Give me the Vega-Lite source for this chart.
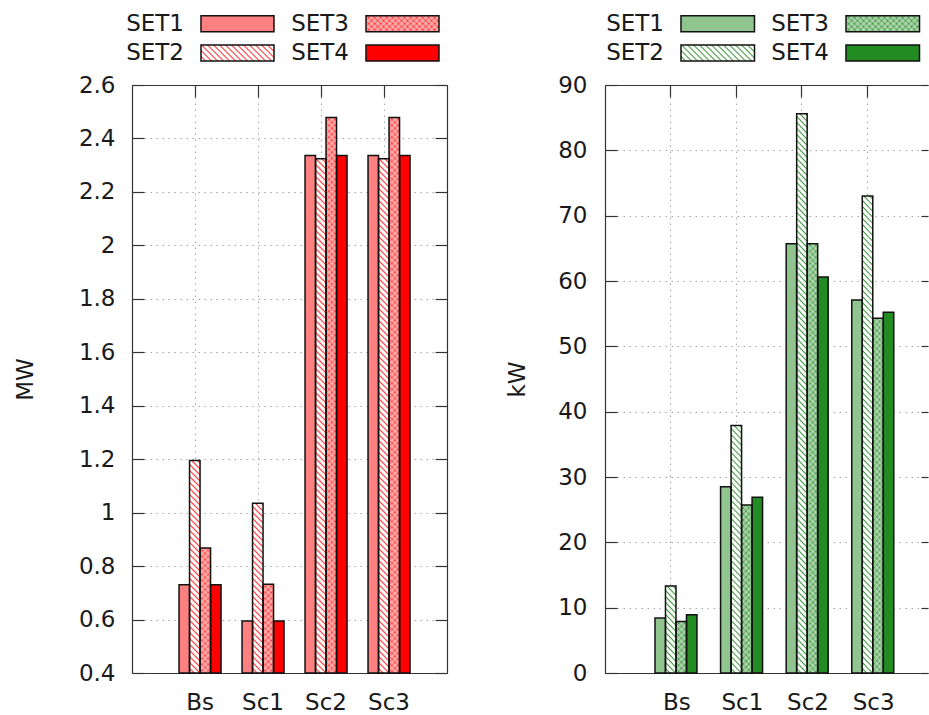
{
  "$schema": "https://vega.github.io/schema/vega-lite/v6.json",
  "autosize": {"type": "pad"},
  "padding": {"left": 14, "top": 0, "right": 0, "bottom": 0},
  "config": {
    "font": "DejaVu Sans",
    "view": {"stroke": null},
    "axis": {
      "labelFont": "DejaVu Sans", "labelFontSize": 23, "labelColor": "#1a1a1a",
      "titleFont": "DejaVu Sans", "titleFontSize": 23, "titleFontWeight": "normal", "titleColor": "#1a1a1a",
      "domainColor": "#333333", "domainWidth": 1.2, "tickColor": "#333333", "tickWidth": 1.2,
      "gridColor": "#a6a6a6", "gridDash": [1.5, 4.5], "gridWidth": 1
    }
  },
  "params": [
    {
      "name": "hatch",
      "value": [
        {"offset":0,"color":"#fff"},{"offset":0.005,"color":"#fff"},{"offset":0.0078,"color":"#fff0"},
        {"offset":0.01,"color":"#fff"},{"offset":0.015,"color":"#fff"},{"offset":0.0178,"color":"#fff0"},
        {"offset":0.02,"color":"#fff"},{"offset":0.025,"color":"#fff"},{"offset":0.0278,"color":"#fff0"},
        {"offset":0.03,"color":"#fff"},{"offset":0.035,"color":"#fff"},{"offset":0.0378,"color":"#fff0"},
        {"offset":0.04,"color":"#fff"},{"offset":0.045,"color":"#fff"},{"offset":0.0478,"color":"#fff0"},
        {"offset":0.05,"color":"#fff"},{"offset":0.055,"color":"#fff"},{"offset":0.0578,"color":"#fff0"},
        {"offset":0.06,"color":"#fff"},{"offset":0.065,"color":"#fff"},{"offset":0.0678,"color":"#fff0"},
        {"offset":0.07,"color":"#fff"},{"offset":0.075,"color":"#fff"},{"offset":0.0778,"color":"#fff0"},
        {"offset":0.08,"color":"#fff"},{"offset":0.085,"color":"#fff"},{"offset":0.0878,"color":"#fff0"},
        {"offset":0.09,"color":"#fff"},{"offset":0.095,"color":"#fff"},{"offset":0.0978,"color":"#fff0"},
        {"offset":0.10,"color":"#fff"},{"offset":0.105,"color":"#fff"},{"offset":0.1078,"color":"#fff0"},
        {"offset":0.11,"color":"#fff"},{"offset":0.115,"color":"#fff"},{"offset":0.1178,"color":"#fff0"},
        {"offset":0.12,"color":"#fff"},{"offset":0.125,"color":"#fff"},{"offset":0.1278,"color":"#fff0"},
        {"offset":0.13,"color":"#fff"},{"offset":0.135,"color":"#fff"},{"offset":0.1378,"color":"#fff0"},
        {"offset":0.14,"color":"#fff"},{"offset":0.145,"color":"#fff"},{"offset":0.1478,"color":"#fff0"},
        {"offset":0.15,"color":"#fff"},{"offset":0.155,"color":"#fff"},{"offset":0.1578,"color":"#fff0"},
        {"offset":0.16,"color":"#fff"},{"offset":0.165,"color":"#fff"},{"offset":0.1678,"color":"#fff0"},
        {"offset":0.17,"color":"#fff"},{"offset":0.175,"color":"#fff"},{"offset":0.1778,"color":"#fff0"},
        {"offset":0.18,"color":"#fff"},{"offset":0.185,"color":"#fff"},{"offset":0.1878,"color":"#fff0"},
        {"offset":0.19,"color":"#fff"},{"offset":0.195,"color":"#fff"},{"offset":0.1978,"color":"#fff0"},
        {"offset":0.20,"color":"#fff"},{"offset":0.205,"color":"#fff"},{"offset":0.2078,"color":"#fff0"},
        {"offset":0.21,"color":"#fff"},{"offset":0.215,"color":"#fff"},{"offset":0.2178,"color":"#fff0"},
        {"offset":0.22,"color":"#fff"},{"offset":0.225,"color":"#fff"},{"offset":0.2278,"color":"#fff0"},
        {"offset":0.23,"color":"#fff"},{"offset":0.235,"color":"#fff"},{"offset":0.2378,"color":"#fff0"},
        {"offset":0.24,"color":"#fff"},{"offset":0.245,"color":"#fff"},{"offset":0.2478,"color":"#fff0"},
        {"offset":0.25,"color":"#fff"},{"offset":0.255,"color":"#fff"},{"offset":0.2578,"color":"#fff0"},
        {"offset":0.26,"color":"#fff"},{"offset":0.265,"color":"#fff"},{"offset":0.2678,"color":"#fff0"},
        {"offset":0.27,"color":"#fff"},{"offset":0.275,"color":"#fff"},{"offset":0.2778,"color":"#fff0"},
        {"offset":0.28,"color":"#fff"},{"offset":0.285,"color":"#fff"},{"offset":0.2878,"color":"#fff0"},
        {"offset":0.29,"color":"#fff"},{"offset":0.295,"color":"#fff"},{"offset":0.2978,"color":"#fff0"},
        {"offset":0.30,"color":"#fff"},{"offset":0.305,"color":"#fff"},{"offset":0.3078,"color":"#fff0"},
        {"offset":0.31,"color":"#fff"},{"offset":0.315,"color":"#fff"},{"offset":0.3178,"color":"#fff0"},
        {"offset":0.32,"color":"#fff"},{"offset":0.325,"color":"#fff"},{"offset":0.3278,"color":"#fff0"},
        {"offset":0.33,"color":"#fff"},{"offset":0.335,"color":"#fff"},{"offset":0.3378,"color":"#fff0"},
        {"offset":0.34,"color":"#fff"},{"offset":0.345,"color":"#fff"},{"offset":0.3478,"color":"#fff0"},
        {"offset":0.35,"color":"#fff"},{"offset":0.355,"color":"#fff"},{"offset":0.3578,"color":"#fff0"},
        {"offset":0.36,"color":"#fff"},{"offset":0.365,"color":"#fff"},{"offset":0.3678,"color":"#fff0"},
        {"offset":0.37,"color":"#fff"},{"offset":0.375,"color":"#fff"},{"offset":0.3778,"color":"#fff0"},
        {"offset":0.38,"color":"#fff"},{"offset":0.385,"color":"#fff"},{"offset":0.3878,"color":"#fff0"},
        {"offset":0.39,"color":"#fff"},{"offset":0.395,"color":"#fff"},{"offset":0.3978,"color":"#fff0"},
        {"offset":0.40,"color":"#fff"},{"offset":0.405,"color":"#fff"},{"offset":0.4078,"color":"#fff0"},
        {"offset":0.41,"color":"#fff"},{"offset":0.415,"color":"#fff"},{"offset":0.4178,"color":"#fff0"},
        {"offset":0.42,"color":"#fff"},{"offset":0.425,"color":"#fff"},{"offset":0.4278,"color":"#fff0"},
        {"offset":0.43,"color":"#fff"},{"offset":0.435,"color":"#fff"},{"offset":0.4378,"color":"#fff0"},
        {"offset":0.44,"color":"#fff"},{"offset":0.445,"color":"#fff"},{"offset":0.4478,"color":"#fff0"},
        {"offset":0.45,"color":"#fff"},{"offset":0.455,"color":"#fff"},{"offset":0.4578,"color":"#fff0"},
        {"offset":0.46,"color":"#fff"},{"offset":0.465,"color":"#fff"},{"offset":0.4678,"color":"#fff0"},
        {"offset":0.47,"color":"#fff"},{"offset":0.475,"color":"#fff"},{"offset":0.4778,"color":"#fff0"},
        {"offset":0.48,"color":"#fff"},{"offset":0.485,"color":"#fff"},{"offset":0.4878,"color":"#fff0"},
        {"offset":0.49,"color":"#fff"},{"offset":0.495,"color":"#fff"},{"offset":0.4978,"color":"#fff0"},
        {"offset":0.50,"color":"#fff"},{"offset":0.505,"color":"#fff"},{"offset":0.5078,"color":"#fff0"},
        {"offset":0.51,"color":"#fff"},{"offset":0.515,"color":"#fff"},{"offset":0.5178,"color":"#fff0"},
        {"offset":0.52,"color":"#fff"},{"offset":0.525,"color":"#fff"},{"offset":0.5278,"color":"#fff0"},
        {"offset":0.53,"color":"#fff"},{"offset":0.535,"color":"#fff"},{"offset":0.5378,"color":"#fff0"},
        {"offset":0.54,"color":"#fff"},{"offset":0.545,"color":"#fff"},{"offset":0.5478,"color":"#fff0"},
        {"offset":0.55,"color":"#fff"},{"offset":0.555,"color":"#fff"},{"offset":0.5578,"color":"#fff0"},
        {"offset":0.56,"color":"#fff"},{"offset":0.565,"color":"#fff"},{"offset":0.5678,"color":"#fff0"},
        {"offset":0.57,"color":"#fff"},{"offset":0.575,"color":"#fff"},{"offset":0.5778,"color":"#fff0"},
        {"offset":0.58,"color":"#fff"},{"offset":0.585,"color":"#fff"},{"offset":0.5878,"color":"#fff0"},
        {"offset":0.59,"color":"#fff"},{"offset":0.595,"color":"#fff"},{"offset":0.5978,"color":"#fff0"},
        {"offset":0.60,"color":"#fff"},{"offset":0.605,"color":"#fff"},{"offset":0.6078,"color":"#fff0"},
        {"offset":0.61,"color":"#fff"},{"offset":0.615,"color":"#fff"},{"offset":0.6178,"color":"#fff0"},
        {"offset":0.62,"color":"#fff"},{"offset":0.625,"color":"#fff"},{"offset":0.6278,"color":"#fff0"},
        {"offset":0.63,"color":"#fff"},{"offset":0.635,"color":"#fff"},{"offset":0.6378,"color":"#fff0"},
        {"offset":0.64,"color":"#fff"},{"offset":0.645,"color":"#fff"},{"offset":0.6478,"color":"#fff0"},
        {"offset":0.65,"color":"#fff"},{"offset":0.655,"color":"#fff"},{"offset":0.6578,"color":"#fff0"},
        {"offset":0.66,"color":"#fff"},{"offset":0.665,"color":"#fff"},{"offset":0.6678,"color":"#fff0"},
        {"offset":0.67,"color":"#fff"},{"offset":0.675,"color":"#fff"},{"offset":0.6778,"color":"#fff0"},
        {"offset":0.68,"color":"#fff"},{"offset":0.685,"color":"#fff"},{"offset":0.6878,"color":"#fff0"},
        {"offset":0.69,"color":"#fff"},{"offset":0.695,"color":"#fff"},{"offset":0.6978,"color":"#fff0"},
        {"offset":0.70,"color":"#fff"},{"offset":0.705,"color":"#fff"},{"offset":0.7078,"color":"#fff0"},
        {"offset":0.71,"color":"#fff"},{"offset":0.715,"color":"#fff"},{"offset":0.7178,"color":"#fff0"},
        {"offset":0.72,"color":"#fff"},{"offset":0.725,"color":"#fff"},{"offset":0.7278,"color":"#fff0"},
        {"offset":0.73,"color":"#fff"},{"offset":0.735,"color":"#fff"},{"offset":0.7378,"color":"#fff0"},
        {"offset":0.74,"color":"#fff"},{"offset":0.745,"color":"#fff"},{"offset":0.7478,"color":"#fff0"},
        {"offset":0.75,"color":"#fff"},{"offset":0.755,"color":"#fff"},{"offset":0.7578,"color":"#fff0"},
        {"offset":0.76,"color":"#fff"},{"offset":0.765,"color":"#fff"},{"offset":0.7678,"color":"#fff0"},
        {"offset":0.77,"color":"#fff"},{"offset":0.775,"color":"#fff"},{"offset":0.7778,"color":"#fff0"},
        {"offset":0.78,"color":"#fff"},{"offset":0.785,"color":"#fff"},{"offset":0.7878,"color":"#fff0"},
        {"offset":0.79,"color":"#fff"},{"offset":0.795,"color":"#fff"},{"offset":0.7978,"color":"#fff0"},
        {"offset":0.80,"color":"#fff"},{"offset":0.805,"color":"#fff"},{"offset":0.8078,"color":"#fff0"},
        {"offset":0.81,"color":"#fff"},{"offset":0.815,"color":"#fff"},{"offset":0.8178,"color":"#fff0"},
        {"offset":0.82,"color":"#fff"},{"offset":0.825,"color":"#fff"},{"offset":0.8278,"color":"#fff0"},
        {"offset":0.83,"color":"#fff"},{"offset":0.835,"color":"#fff"},{"offset":0.8378,"color":"#fff0"},
        {"offset":0.84,"color":"#fff"},{"offset":0.845,"color":"#fff"},{"offset":0.8478,"color":"#fff0"},
        {"offset":0.85,"color":"#fff"},{"offset":0.855,"color":"#fff"},{"offset":0.8578,"color":"#fff0"},
        {"offset":0.86,"color":"#fff"},{"offset":0.865,"color":"#fff"},{"offset":0.8678,"color":"#fff0"},
        {"offset":0.87,"color":"#fff"},{"offset":0.875,"color":"#fff"},{"offset":0.8778,"color":"#fff0"},
        {"offset":0.88,"color":"#fff"},{"offset":0.885,"color":"#fff"},{"offset":0.8878,"color":"#fff0"},
        {"offset":0.89,"color":"#fff"},{"offset":0.895,"color":"#fff"},{"offset":0.8978,"color":"#fff0"},
        {"offset":0.90,"color":"#fff"},{"offset":0.905,"color":"#fff"},{"offset":0.9078,"color":"#fff0"},
        {"offset":0.91,"color":"#fff"},{"offset":0.915,"color":"#fff"},{"offset":0.9178,"color":"#fff0"},
        {"offset":0.92,"color":"#fff"},{"offset":0.925,"color":"#fff"},{"offset":0.9278,"color":"#fff0"},
        {"offset":0.93,"color":"#fff"},{"offset":0.935,"color":"#fff"},{"offset":0.9378,"color":"#fff0"},
        {"offset":0.94,"color":"#fff"},{"offset":0.945,"color":"#fff"},{"offset":0.9478,"color":"#fff0"},
        {"offset":0.95,"color":"#fff"},{"offset":0.955,"color":"#fff"},{"offset":0.9578,"color":"#fff0"},
        {"offset":0.96,"color":"#fff"},{"offset":0.965,"color":"#fff"},{"offset":0.9678,"color":"#fff0"},
        {"offset":0.97,"color":"#fff"},{"offset":0.975,"color":"#fff"},{"offset":0.9778,"color":"#fff0"},
        {"offset":0.98,"color":"#fff"},{"offset":0.985,"color":"#fff"},{"offset":0.9878,"color":"#fff0"},
        {"offset":0.99,"color":"#fff"},{"offset":0.995,"color":"#fff"},{"offset":0.9978,"color":"#fff0"},
        {"offset":1,"color":"#fff"}
      ]
    }
  ],
  "spacing": 58,
  "hconcat": [
    {
      "bounds": "flush",
      "spacing": 15,
      "vconcat": [
        {
          "width": 315,
          "height": 70,
          "data": {"values": [{"set": "SET1"}, {"set": "SET2"}, {"set": "SET3"}, {"set": "SET4"}]},
          "transform": [
            {"calculate": "datum.set === 'SET1' || datum.set === 'SET2' ? 'c1' : 'c2'", "as": "col"},
            {"calculate": "datum.set === 'SET1' || datum.set === 'SET3' ? 'r1' : 'r2'", "as": "row"}
          ],
          "encoding": {
            "x": {"field": "col", "type": "nominal", "axis": null,
                  "scale": {"domain": ["c1", "c2"], "paddingInner": 0.5576, "paddingOuter": 0.2333, "align": 0.896}},
            "y": {"field": "row", "type": "nominal", "axis": null,
                  "scale": {"domain": ["r1", "r2"], "paddingInner": 0.454, "paddingOuter": 0.4215, "align": 0.636}}
          },
          "layer": [
            {"mark": {"type": "rect", "fill": {"expr": "datum.set === 'SET1' ? '#ff8080' : datum.set === 'SET2' ? '#ff3030' : datum.set === 'SET3' ? '#ff1a1a' : '#ff0000'"}}},
            {"transform": [{"filter": {"field": "set", "oneOf": ["SET2", "SET3"]}}],
             "mark": {"type": "rect", "fill": {"expr": "{gradient: 'linear', x1: 0, y1: 1, x2: 7.842, y2: -0.719, stops: hatch}"},
                      "fillOpacity": {"expr": "datum.set === 'SET2' ? 1 : 0.38"}}},
            {"transform": [{"filter": {"field": "set", "equal": "SET3"}}],
             "mark": {"type": "rect", "fill": {"expr": "{gradient: 'linear', x1: 0, y1: 0, x2: 7.842, y2: 1.719, stops: hatch}"}, "fillOpacity": 0.38}},
            {"mark": {"type": "rect", "fillOpacity": 0, "stroke": "#111111", "strokeWidth": 1.5}},
            {"mark": {"type": "text", "align": "right", "baseline": "middle", "dx": -17, "fontSize": 23, "color": "#1a1a1a"},
             "encoding": {
               "x": {"field": "col", "type": "nominal", "axis": null, "bandPosition": 0,
                     "scale": {"domain": ["c1", "c2"], "paddingInner": 0.5576, "paddingOuter": 0.2333, "align": 0.896}},
               "text": {"field": "set"}
             }}
          ]
        },
        {
          "width": 315,
          "height": 588,
          "data": {"values": [
            {"scenario": "Bs", "set": "SET1", "value": 0.73},
            {"scenario": "Bs", "set": "SET2", "value": 1.195},
            {"scenario": "Bs", "set": "SET3", "value": 0.868},
            {"scenario": "Bs", "set": "SET4", "value": 0.73},
            {"scenario": "Sc1", "set": "SET1", "value": 0.595},
            {"scenario": "Sc1", "set": "SET2", "value": 1.035},
            {"scenario": "Sc1", "set": "SET3", "value": 0.732},
            {"scenario": "Sc1", "set": "SET4", "value": 0.595},
            {"scenario": "Sc2", "set": "SET1", "value": 2.336},
            {"scenario": "Sc2", "set": "SET2", "value": 2.324},
            {"scenario": "Sc2", "set": "SET3", "value": 2.478},
            {"scenario": "Sc2", "set": "SET4", "value": 2.336},
            {"scenario": "Sc3", "set": "SET1", "value": 2.336},
            {"scenario": "Sc3", "set": "SET2", "value": 2.324},
            {"scenario": "Sc3", "set": "SET3", "value": 2.478},
            {"scenario": "Sc3", "set": "SET4", "value": 2.336}
          ]},
          "encoding": {
            "xOffset": {"field": "set", "type": "nominal", "scale": {"domain": ["SET1", "SET2", "SET3", "SET4"], "paddingInner": 0, "paddingOuter": 0}},
            "y2": {"datum": 0.4}
          },
          "resolve": {"axis": {"x": "independent", "y": "independent"}},
          "layer": [
            {
              "mark": {"type": "bar", "fill": {"expr": "datum.set === 'SET1' ? '#ff8080' : datum.set === 'SET2' ? '#ff3030' : datum.set === 'SET3' ? '#ff1a1a' : '#ff0000'"}, "strokeWidth": 0},
              "encoding": {
                "x": {"field": "scenario", "type": "nominal",
                      "scale": {"domain": ["Bs", "Sc1", "Sc2", "Sc3"], "paddingInner": 0.3333, "paddingOuter": 0.6667, "align": 0.56},
                      "axis": {"orient": "bottom", "title": null, "labelAngle": 0, "ticks": false, "domain": true, "grid": true, "bandPosition": 0.381, "labelPadding": 18}},
                "y": {"field": "value", "type": "quantitative", "stack": null,
                      "scale": {"domain": [0.4, 2.6], "nice": false, "zero": false},
                      "axis": {"orient": "left", "title": "MW", "values": [0.4, 0.6, 0.8, 1, 1.2, 1.4, 1.6, 1.8, 2, 2.2, 2.4, 2.6], "format": "~f",
                               "grid": true, "tickSize": -12, "labelPadding": 29, "titlePadding": 41}}
              }
            },
            {
              "transform": [{"filter": {"field": "set", "oneOf": ["SET2", "SET3"]}}],
              "mark": {"type": "bar",
                       "fill": {"expr": "{gradient: 'linear', x1: 0, y1: 1, x2: 600 * 10.5 / (110.25 + pow((datum.value - 0.4) * 267.27, 2)), y2: 1 - 600 * (datum.value - 0.4) * 267.27 / (110.25 + pow((datum.value - 0.4) * 267.27, 2)), stops: hatch}"},
                       "fillOpacity": {"expr": "datum.set === 'SET2' ? 1 : 0.38"}},
              "encoding": {
                "x": {"field": "scenario", "type": "nominal", "axis": null},
                "y": {"field": "value", "type": "quantitative", "stack": null, "axis": null}
              }
            },
            {
              "transform": [{"filter": {"field": "set", "equal": "SET3"}}],
              "mark": {"type": "bar",
                       "fill": {"expr": "{gradient: 'linear', x1: 0, y1: 0, x2: 600 * 10.5 / (110.25 + pow((datum.value - 0.4) * 267.27, 2)), y2: 600 * (datum.value - 0.4) * 267.27 / (110.25 + pow((datum.value - 0.4) * 267.27, 2)), stops: hatch}"},
                       "fillOpacity": 0.38},
              "encoding": {
                "x": {"field": "scenario", "type": "nominal", "axis": null},
                "y": {"field": "value", "type": "quantitative", "stack": null, "axis": null}
              }
            },
            {
              "mark": {"type": "bar", "fillOpacity": 0, "stroke": "#111111", "strokeWidth": 1.5},
              "encoding": {
                "x": {"field": "scenario", "type": "nominal",
                      "axis": {"orient": "top", "title": null, "labels": false, "ticks": true, "tickSize": -12, "domain": true, "grid": false, "bandPosition": 0.381}},
                "y": {"field": "value", "type": "quantitative", "stack": null,
                      "axis": {"orient": "right", "title": null, "labels": false, "values": [0.4, 0.6, 0.8, 1, 1.2, 1.4, 1.6, 1.8, 2, 2.2, 2.4, 2.6],
                               "tickSize": -12, "domain": true, "grid": false}}
              }
            }
          ]
        }
      ]
    },
    {
      "bounds": "flush",
      "spacing": 15,
      "vconcat": [
        {
          "width": 323,
          "height": 70,
          "data": {"values": [{"set": "SET1"}, {"set": "SET2"}, {"set": "SET3"}, {"set": "SET4"}]},
          "transform": [
            {"calculate": "datum.set === 'SET1' || datum.set === 'SET2' ? 'c1' : 'c2'", "as": "col"},
            {"calculate": "datum.set === 'SET1' || datum.set === 'SET3' ? 'r1' : 'r2'", "as": "row"}
          ],
          "encoding": {
            "x": {"field": "col", "type": "nominal", "axis": null,
                  "scale": {"domain": ["c1", "c2"], "paddingInner": 0.5545, "paddingOuter": 0.256, "align": 0.8994}},
            "y": {"field": "row", "type": "nominal", "axis": null,
                  "scale": {"domain": ["r1", "r2"], "paddingInner": 0.454, "paddingOuter": 0.4215, "align": 0.636}}
          },
          "layer": [
            {"mark": {"type": "rect", "fill": {"expr": "datum.set === 'SET1' ? '#90c590' : datum.set === 'SET2' ? '#3a9a3a' : datum.set === 'SET3' ? '#228b22' : '#228b22'"}}},
            {"transform": [{"filter": {"field": "set", "oneOf": ["SET2", "SET3"]}}],
             "mark": {"type": "rect", "fill": {"expr": "{gradient: 'linear', x1: 0, y1: 1, x2: 7.794, y2: -0.697, stops: hatch}"},
                      "fillOpacity": {"expr": "datum.set === 'SET2' ? 1 : 0.38"}}},
            {"transform": [{"filter": {"field": "set", "equal": "SET3"}}],
             "mark": {"type": "rect", "fill": {"expr": "{gradient: 'linear', x1: 0, y1: 0, x2: 7.794, y2: 1.697, stops: hatch}"}, "fillOpacity": 0.38}},
            {"mark": {"type": "rect", "fillOpacity": 0, "stroke": "#111111", "strokeWidth": 1.5}},
            {"mark": {"type": "text", "align": "right", "baseline": "middle", "dx": -17, "fontSize": 23, "color": "#1a1a1a"},
             "encoding": {
               "x": {"field": "col", "type": "nominal", "axis": null, "bandPosition": 0,
                     "scale": {"domain": ["c1", "c2"], "paddingInner": 0.5545, "paddingOuter": 0.256, "align": 0.8994}},
               "text": {"field": "set"}
             }}
          ]
        },
        {
          "width": 323,
          "height": 588,
          "data": {"values": [
            {"scenario": "Bs", "set": "SET1", "value": 8.4},
            {"scenario": "Bs", "set": "SET2", "value": 13.3},
            {"scenario": "Bs", "set": "SET3", "value": 7.9},
            {"scenario": "Bs", "set": "SET4", "value": 8.9},
            {"scenario": "Sc1", "set": "SET1", "value": 28.5},
            {"scenario": "Sc1", "set": "SET2", "value": 37.9},
            {"scenario": "Sc1", "set": "SET3", "value": 25.7},
            {"scenario": "Sc1", "set": "SET4", "value": 26.9},
            {"scenario": "Sc2", "set": "SET1", "value": 65.7},
            {"scenario": "Sc2", "set": "SET2", "value": 85.6},
            {"scenario": "Sc2", "set": "SET3", "value": 65.7},
            {"scenario": "Sc2", "set": "SET4", "value": 60.6},
            {"scenario": "Sc3", "set": "SET1", "value": 57.1},
            {"scenario": "Sc3", "set": "SET2", "value": 73.0},
            {"scenario": "Sc3", "set": "SET3", "value": 54.3},
            {"scenario": "Sc3", "set": "SET4", "value": 55.2}
          ]},
          "encoding": {
            "xOffset": {"field": "set", "type": "nominal", "scale": {"domain": ["SET1", "SET2", "SET3", "SET4"], "paddingInner": 0, "paddingOuter": 0}},
            "y2": {"datum": 0}
          },
          "resolve": {"axis": {"x": "independent", "y": "independent"}},
          "layer": [
            {
              "mark": {"type": "bar", "fill": {"expr": "datum.set === 'SET1' ? '#90c590' : datum.set === 'SET2' ? '#3a9a3a' : datum.set === 'SET3' ? '#228b22' : '#228b22'"}, "strokeWidth": 0},
              "encoding": {
                "x": {"field": "scenario", "type": "nominal",
                      "scale": {"domain": ["Bs", "Sc1", "Sc2", "Sc3"], "paddingInner": 0.3333, "paddingOuter": 0.6286, "align": 0.606},
                      "axis": {"orient": "bottom", "title": null, "labelAngle": 0, "ticks": false, "domain": true, "grid": true, "bandPosition": 0.355, "labelPadding": 18}},
                "y": {"field": "value", "type": "quantitative", "stack": null,
                      "scale": {"domain": [0, 90], "nice": false, "zero": false},
                      "axis": {"orient": "left", "title": "kW", "values": [0, 10, 20, 30, 40, 50, 60, 70, 80, 90],
                               "grid": true, "tickSize": -12, "labelPadding": 30, "titlePadding": 28}}
              }
            },
            {
              "transform": [{"filter": {"field": "set", "oneOf": ["SET2", "SET3"]}}],
              "mark": {"type": "bar",
                       "fill": {"expr": "{gradient: 'linear', x1: 0, y1: 1, x2: 600 * 10.93 / (119.46 + pow(datum.value * 6.5333, 2)), y2: 1 - 600 * datum.value * 6.5333 / (119.46 + pow(datum.value * 6.5333, 2)), stops: hatch}"},
                       "fillOpacity": {"expr": "datum.set === 'SET2' ? 1 : 0.38"}},
              "encoding": {
                "x": {"field": "scenario", "type": "nominal", "axis": null},
                "y": {"field": "value", "type": "quantitative", "stack": null, "axis": null}
              }
            },
            {
              "transform": [{"filter": {"field": "set", "equal": "SET3"}}],
              "mark": {"type": "bar",
                       "fill": {"expr": "{gradient: 'linear', x1: 0, y1: 0, x2: 600 * 10.93 / (119.46 + pow(datum.value * 6.5333, 2)), y2: 600 * datum.value * 6.5333 / (119.46 + pow(datum.value * 6.5333, 2)), stops: hatch}"},
                       "fillOpacity": 0.38},
              "encoding": {
                "x": {"field": "scenario", "type": "nominal", "axis": null},
                "y": {"field": "value", "type": "quantitative", "stack": null, "axis": null}
              }
            },
            {
              "mark": {"type": "bar", "fillOpacity": 0, "stroke": "#111111", "strokeWidth": 1.5},
              "encoding": {
                "x": {"field": "scenario", "type": "nominal",
                      "axis": {"orient": "top", "title": null, "labels": false, "ticks": true, "tickSize": -12, "domain": true, "grid": false, "bandPosition": 0.355}},
                "y": {"field": "value", "type": "quantitative", "stack": null,
                      "axis": {"orient": "right", "title": null, "labels": false, "values": [0, 10, 20, 30, 40, 50, 60, 70, 80, 90],
                               "tickSize": -7, "domain": false, "grid": false}}
              }
            }
          ]
        }
      ]
    }
  ]
}
